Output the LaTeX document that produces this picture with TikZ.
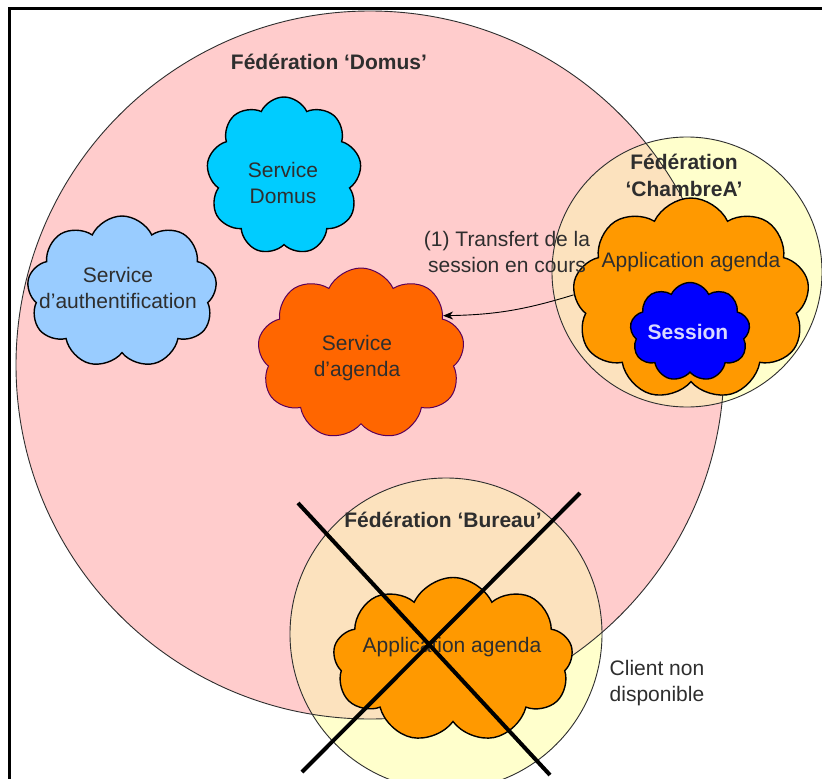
\documentclass[tikz,border=0pt]{standalone}
\usepackage{fontspec}
\setmainfont{Liberation Sans}
\usetikzlibrary{shapes.symbols, arrows.meta}

\definecolor{domuspink}{HTML}{FFCCCC}
\definecolor{fedyellow}{HTML}{FFFFCC}
\definecolor{fedpeach}{HTML}{FCE2BE}
\definecolor{servcyan}{HTML}{00CCFF}
\definecolor{servblue}{HTML}{99CCFF}
\definecolor{servorange}{HTML}{FF6600}
\definecolor{apporange}{HTML}{FF9900}
\definecolor{sessblue}{HTML}{0000FF}
\definecolor{txtgray}{HTML}{2E2E2E}

\begin{document}
\begin{tikzpicture}[
    x=1pt, y=-1pt,
    cloudbox/.style={cloud, cloud puffs=9, cloud puff arc=130, cloud ignores aspect,
        draw=black, line width=1.4pt, inner sep=0pt},
    fedline/.style={draw=txtgray, line width=0.9pt},
    txt/.style={font=\fontsize{21}{26}\selectfont, text=txtgray, align=center, inner sep=0pt},
    fedtxt/.style={txt, font=\fontsize{21}{27}\selectfont\bfseries},
    ]
    \useasboundingbox (0,0) rectangle (822,779);
    \clip (0,0) rectangle (822,779);
    \fill[white] (0,0) rectangle (822,779);
    \draw[line width=2.4pt] (9.5,830) -- (9.5,8.5) -- (840,8.5);

    \coordinate (domus) at (370,365);
    \coordinate (chambre) at (687,272);
    \coordinate (bureau) at (446,634);

    \fill[domuspink] (domus) circle (354pt);
    \fill[fedyellow] (chambre) circle (135pt);
    \fill[fedyellow] (bureau) circle (156pt);
    \begin{scope}
        \clip (domus) circle (354pt);
        \fill[fedpeach] (chambre) circle (135pt);
        \fill[fedpeach] (bureau) circle (156pt);
    \end{scope}
    \draw[fedline] (domus) circle (354pt);
    \draw[fedline] (chambre) circle (135pt);
    \draw[fedline] (bureau) circle (156pt);

    \node[cloudbox, fill=servcyan, minimum width=155pt, minimum height=158pt] (sdomus) at (284,176) {};
    \node[cloudbox, fill=servblue, minimum width=190pt, minimum height=152pt] (sauth) at (122,292) {};
    \node[cloudbox, fill=servorange, draw=violet!70!black, line width=1pt, minimum width=207pt, minimum height=172pt] (sagenda) at (361,354) {};
    \node[cloudbox, fill=apporange, minimum width=237pt, minimum height=202pt] (chapp) at (691,299) {};
    \node[cloudbox, fill=sessblue, minimum width=120pt, minimum height=99pt] (session) at (690,332) {};
    \node[cloudbox, fill=apporange, minimum width=240pt, minimum height=165pt] (buapp) at (453,660) {};

    \node[fedtxt] (fdomus) at (329,62) {Fédération `Domus'};
    \node[fedtxt] (fchambre) at (684,175) {Fédération\\`ChambreA'};
    \node[fedtxt] (fbureau) at (443,520) {Fédération `Bureau'};

    \node[txt] (sdomus-t) at (283,183) {Service\\Domus};
    \node[txt] (sauth-t) at (118,288) {Service\\d'authentification};
    \node[txt] (sagenda-t) at (357,358) {Service\\d'agenda};
    \node[txt] (chapp-t) at (691,262) {Application agenda};
    \node[txt, font=\fontsize{21}{26}\selectfont\bfseries, text=blue!15] (session-t) at (688,332) {Session};
    \node[txt] (buapp-t) at (452,647) {Application agenda};
    \node[txt] (transfert) at (507,252) {(1) Transfert de la\\session en cours};
    \node[txt] (client) at (657,683) {Client non\\disponible};

    \draw[-{Stealth[length=10pt, width=8pt]}, line width=0.9pt] (chapp.178) to[bend left=8] (sagenda.25);

    \draw[line width=4pt] (298,503) -- (550,775);
    \draw[line width=4pt] (580,493) -- (302,772);
\end{tikzpicture}
\end{document}
